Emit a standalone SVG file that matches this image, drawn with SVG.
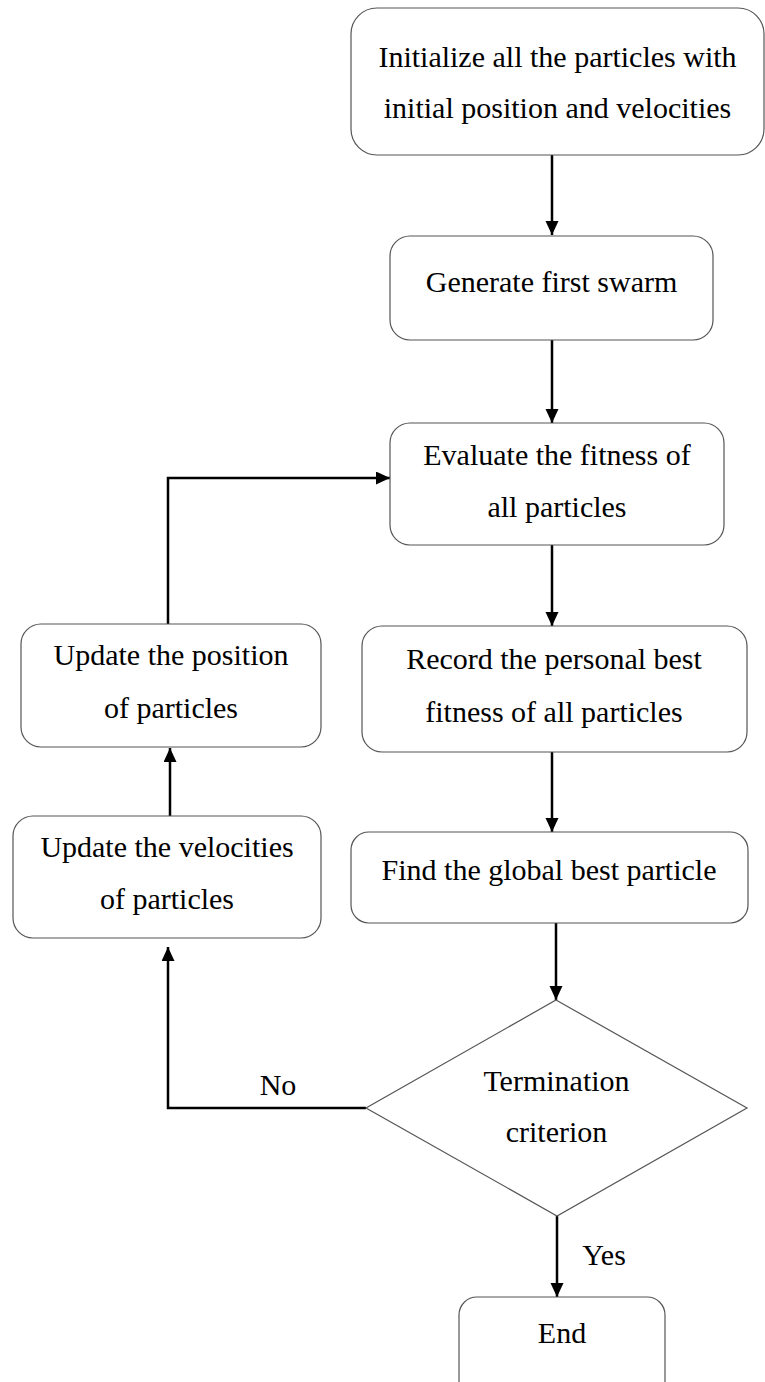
<svg xmlns="http://www.w3.org/2000/svg" width="765" height="1382" viewBox="0 0 765 1382">
<style>
.box{fill:#fff;stroke:#555;stroke-width:1.2}
.t{font-family:"Liberation Serif","Times New Roman",serif;font-size:30px;fill:#000;text-anchor:middle}
.c{fill:none;stroke:#000;stroke-width:2.5}
</style>
<defs>
<marker id="ah" markerUnits="userSpaceOnUse" markerWidth="14" markerHeight="14" refX="14" refY="6.5" orient="auto">
<path d="M0,0 L14,6.5 L0,13 z" fill="#000"/>
</marker>
</defs>
<rect width="765" height="1382" fill="#fff"/>
<g id="connectors">
<path class="c" d="M552,155 V235" marker-end="url(#ah)"/>
<path class="c" d="M552,340 V423" marker-end="url(#ah)"/>
<path class="c" d="M552,545 V626" marker-end="url(#ah)"/>
<path class="c" d="M552,752 V832" marker-end="url(#ah)"/>
<path class="c" d="M556,923 V1000" marker-end="url(#ah)"/>
<path class="c" d="M557,1216 V1297" marker-end="url(#ah)"/>
<path class="c" d="M366,1108 H168 V947" marker-end="url(#ah)"/>
<path class="c" d="M170,816 V748" marker-end="url(#ah)"/>
<path class="c" d="M168,624 V478 H390" marker-end="url(#ah)"/>
<text class="t" x="278" y="1095">No</text>
<text class="t" x="604" y="1265">Yes</text>
</g>
<g id="init">
<rect class="box" x="351" y="8" width="413" height="147" rx="26"/>
<text class="t" x="557.5" y="67">Initialize all the particles with</text>
<text class="t" x="557.5" y="118">initial position and velocities</text>
</g>
<g id="generate">
<rect class="box" x="390" y="236" width="323" height="104" rx="20"/>
<text class="t" x="551.5" y="292">Generate first swarm</text>
</g>
<g id="evaluate">
<rect class="box" x="390" y="423" width="334" height="122" rx="20"/>
<text class="t" x="557" y="465">Evaluate the fitness of</text>
<text class="t" x="557" y="517">all particles</text>
</g>
<g id="record">
<rect class="box" x="362" y="626" width="385" height="126" rx="20"/>
<text class="t" x="554" y="669">Record the personal best</text>
<text class="t" x="554" y="722">fitness of all particles</text>
</g>
<g id="global">
<rect class="box" x="351" y="832" width="397" height="91" rx="18"/>
<text class="t" x="549" y="880">Find the global best particle</text>
</g>
<g id="position">
<rect class="box" x="21" y="624" width="300" height="123" rx="20"/>
<text class="t" x="171" y="665">Update the position</text>
<text class="t" x="171" y="718">of particles</text>
</g>
<g id="velocity">
<rect class="box" x="13" y="816" width="308" height="122" rx="20"/>
<text class="t" x="167" y="857">Update the velocities</text>
<text class="t" x="167" y="909">of particles</text>
</g>
<g id="termination">
<polygon class="box" points="556,1000 747,1108 557,1216 366,1108"/>
<text class="t" x="556.5" y="1091">Termination</text>
<text class="t" x="556.5" y="1142">criterion</text>
</g>
<g id="end">
<rect class="box" x="459" y="1297" width="206" height="110" rx="18"/>
<text class="t" x="562" y="1343">End</text>
</g>
</svg>
